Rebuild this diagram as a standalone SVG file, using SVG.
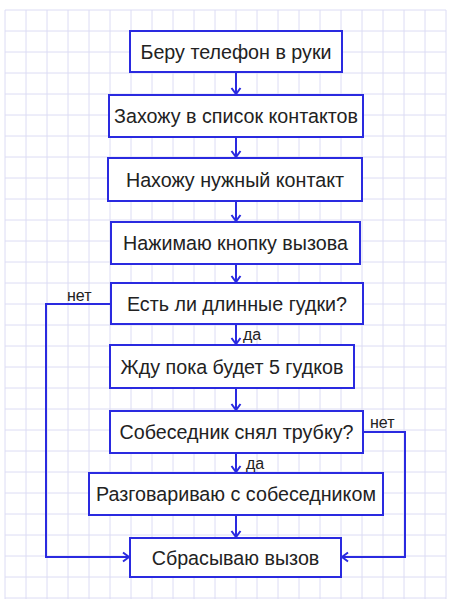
<svg xmlns="http://www.w3.org/2000/svg" width="450" height="599" viewBox="0 0 450 599">
<style>
.grid line{stroke:#dcdcf4;stroke-width:1}
.box{fill:#ffffff;stroke:#2a2ae0;stroke-width:2}
.lbl{font-family:"Liberation Sans",Arial,sans-serif;font-size:19.7px;fill:#222222;text-anchor:middle;dominant-baseline:central}
.small{font-family:"Liberation Sans",Arial,sans-serif;font-size:16px;fill:#222222}
.conn path{fill:none;stroke:#2a2ae0;stroke-width:2;marker-end:url(#arr)}
</style>
<defs>
<marker id="arr" markerUnits="userSpaceOnUse" viewBox="-8 -6 10 12" markerWidth="10" markerHeight="12" refX="0" refY="0" orient="auto" overflow="visible">
<path d="M-6,-4.5 L0,0 L-6,4.5" fill="none" stroke="#2a2ae0" stroke-width="2"/>
</marker>
</defs>
<rect width="450" height="599" fill="#ffffff"/>
<g class="grid">
<line x1="5" y1="10" x2="5" y2="599"/><line x1="26" y1="10" x2="26" y2="599"/><line x1="47" y1="10" x2="47" y2="599"/><line x1="68" y1="10" x2="68" y2="599"/><line x1="89" y1="10" x2="89" y2="599"/><line x1="110" y1="10" x2="110" y2="599"/><line x1="131" y1="10" x2="131" y2="599"/><line x1="152" y1="10" x2="152" y2="599"/><line x1="173" y1="10" x2="173" y2="599"/><line x1="194" y1="10" x2="194" y2="599"/><line x1="215" y1="10" x2="215" y2="599"/><line x1="236" y1="10" x2="236" y2="599"/><line x1="257" y1="10" x2="257" y2="599"/><line x1="278" y1="10" x2="278" y2="599"/><line x1="299" y1="10" x2="299" y2="599"/><line x1="320" y1="10" x2="320" y2="599"/><line x1="341" y1="10" x2="341" y2="599"/><line x1="362" y1="10" x2="362" y2="599"/><line x1="383" y1="10" x2="383" y2="599"/><line x1="404" y1="10" x2="404" y2="599"/><line x1="425" y1="10" x2="425" y2="599"/><line x1="446" y1="10" x2="446" y2="599"/>
<line x1="5" y1="10" x2="446" y2="10"/><line x1="5" y1="31" x2="446" y2="31"/><line x1="5" y1="52" x2="446" y2="52"/><line x1="5" y1="73" x2="446" y2="73"/><line x1="5" y1="94" x2="446" y2="94"/><line x1="5" y1="115" x2="446" y2="115"/><line x1="5" y1="136" x2="446" y2="136"/><line x1="5" y1="157" x2="446" y2="157"/><line x1="5" y1="178" x2="446" y2="178"/><line x1="5" y1="199" x2="446" y2="199"/><line x1="5" y1="220" x2="446" y2="220"/><line x1="5" y1="241" x2="446" y2="241"/><line x1="5" y1="262" x2="446" y2="262"/><line x1="5" y1="283" x2="446" y2="283"/><line x1="5" y1="304" x2="446" y2="304"/><line x1="5" y1="325" x2="446" y2="325"/><line x1="5" y1="346" x2="446" y2="346"/><line x1="5" y1="367" x2="446" y2="367"/><line x1="5" y1="388" x2="446" y2="388"/><line x1="5" y1="409" x2="446" y2="409"/><line x1="5" y1="430" x2="446" y2="430"/><line x1="5" y1="451" x2="446" y2="451"/><line x1="5" y1="472" x2="446" y2="472"/><line x1="5" y1="493" x2="446" y2="493"/><line x1="5" y1="514" x2="446" y2="514"/><line x1="5" y1="535" x2="446" y2="535"/><line x1="5" y1="556" x2="446" y2="556"/><line x1="5" y1="577" x2="446" y2="577"/><line x1="5" y1="598" x2="446" y2="598"/>
</g>
<g id="connectors" class="conn">
<path d="M236,72 V94"/>
<path d="M236,137 V157"/>
<path d="M236,201 V221"/>
<path d="M236,264 V282"/>
<path d="M236,324 V344"/>
<path d="M236,388 V410"/>
<path d="M236,453 V472"/>
<path d="M236,515 V537"/>
<path d="M111,304 H46 V557 H129"/>
<path d="M363,432 H405 V557 H342"/>
<text class="small" x="67" y="301">нет</text>
<text class="small" x="243" y="340">да</text>
<text class="small" x="370" y="428">нет</text>
<text class="small" x="246" y="469">да</text>
</g>
<g id="n1"><rect class="box" x="130" y="31" width="212" height="41"/><text class="lbl" x="236" y="51.5">Беру телефон в руки</text></g>
<g id="n2"><rect class="box" x="109" y="95" width="254" height="42"/><text class="lbl" x="236" y="116">Захожу в список контактов</text></g>
<g id="n3"><rect class="box" x="108" y="158" width="254" height="43"/><text class="lbl" x="235" y="179.5">Нахожу нужный контакт</text></g>
<g id="n4"><rect class="box" x="111" y="222" width="249" height="42"/><text class="lbl" x="235.5" y="243">Нажимаю кнопку вызова</text></g>
<g id="n5"><rect class="box" x="111" y="283" width="252" height="41"/><text class="lbl" x="237" y="303.5">Есть ли длинные гудки?</text></g>
<g id="n6"><rect class="box" x="110" y="345" width="244" height="43"/><text class="lbl" x="232" y="366.5">Жду пока будет 5 гудков</text></g>
<g id="n7"><rect class="box" x="110" y="411" width="253" height="42"/><text class="lbl" x="236.5" y="432">Собеседник снял трубку?</text></g>
<g id="n8"><rect class="box" x="89" y="473" width="294" height="42"/><text class="lbl" x="236" y="494">Разговариваю с собеседником</text></g>
<g id="n9"><rect class="box" x="130" y="538" width="211" height="39"/><text class="lbl" x="235.5" y="557.5">Сбрасываю вызов</text></g>
</svg>
